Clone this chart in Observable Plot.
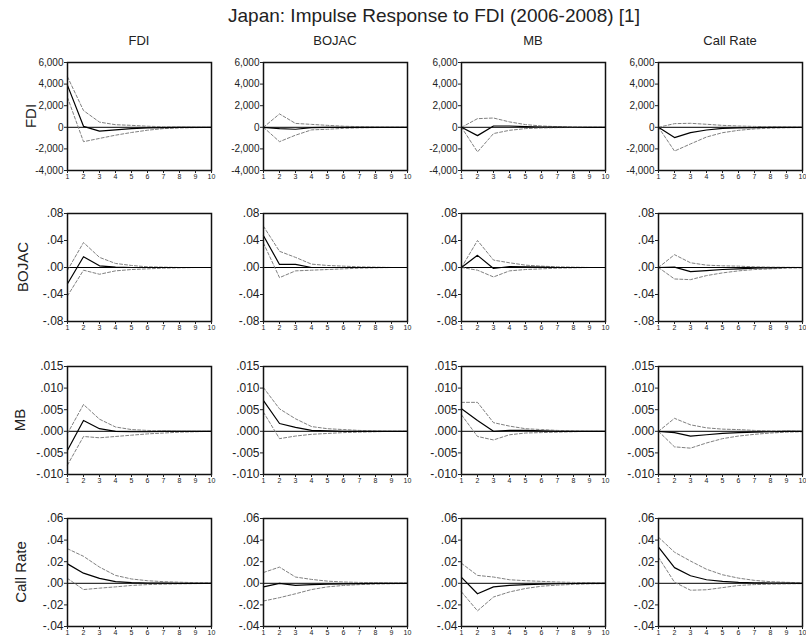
<!DOCTYPE html>
<html>
<head>
<meta charset="utf-8">
<script src="https://cdn.jsdelivr.net/npm/d3@7"></script>
<script src="https://cdn.jsdelivr.net/npm/@observablehq/plot@0.6"></script>
<style>
  html, body { margin: 0; padding: 0; background: #fff; }
  #wrap { position: relative; width: 806px; height: 642px; font-family: "Liberation Sans", Arial, sans-serif; color: #222; overflow: hidden; }
  .title { position: absolute; left: 0; width: 868px; top: 5px; text-align: center; font-size: 19px; line-height: 22px; }
  .head { position: absolute; top: 33px; width: 144px; text-align: center; font-size: 13px; }
  .rowlab { position: absolute; font-size: 15px; transform: translate(-50%, -50%) rotate(-90deg); white-space: nowrap; line-height: 16px; }
  .panel { position: absolute; }
</style>
</head>
<body>
<div id="wrap"></div>
<script>
// ---- Data ----
const title = "Japan: Impulse Response to FDI (2006-2008) [1]";
const shocks = ["FDI", "BOJAC", "MB", "Call Rate"];      // columns (impulse)
const responses = ["FDI", "BOJAC", "MB", "Call Rate"];   // rows (response)
const periods = [1, 2, 3, 4, 5, 6, 7, 8, 9, 10];

// Row 1: response of FDI (columns: FDI, BOJAC, MB, Call Rate)
const fdiResp = [
  [3880, 90, -360, -240, -120, -60, -30, -15, -5, 0],
  [0, -120, -180, -30, -10, -5, 0, 0, 0, 0],
  [0, -770, 120, 120, 60, 30, 15, 5, 0, 0],
  [0, -950, -490, -250, -100, -50, -25, -10, -5, 0]
];
const fdiUpper = [
  [4670, 1550, 480, 240, 180, 100, 50, 25, 10, 5],
  [0, 1240, 360, 270, 180, 100, 60, 30, 15, 5],
  [0, 800, 860, 500, 250, 120, 60, 30, 15, 5],
  [0, 340, 370, 280, 180, 120, 80, 50, 30, 15]
];
const fdiLower = [
  [2760, -1330, -1030, -730, -480, -270, -120, -60, -30, -10],
  [0, -1330, -730, -240, -180, -100, -50, -25, -10, -5],
  [0, -2280, -580, -280, -120, -60, -30, -15, -5, 0],
  [0, -2200, -1540, -900, -500, -280, -150, -80, -40, -20]
];

// Row 2: response of BOJAC
const bojacResp = [
  [-0.024, 0.016, 0.0025, 0.0005, 0, 0, 0, 0, 0, 0],
  [0.047, 0.0045, 0.0045, 0, 0, 0, 0, 0, 0, 0],
  [0, 0.018, -0.0015, 0.0015, 0.001, 0.0005, 0, 0, 0, 0],
  [0, 0.0005, -0.006, -0.0045, -0.003, -0.002, -0.001, -0.0005, 0, 0]
];
const bojacUpper = [
  [-0.004, 0.037, 0.015, 0.006, 0.003, 0.001, 0.0005, 0, 0, 0],
  [0.061, 0.024, 0.015, 0.005, 0.003, 0.002, 0.001, 0.0005, 0, 0],
  [0, 0.04, 0.011, 0.007, 0.0035, 0.002, 0.001, 0.0005, 0, 0],
  [0, 0.019, 0.007, 0.0035, 0.0025, 0.002, 0.001, 0.0005, 0.0003, 0.0001]
];
const bojacLower = [
  [-0.042, -0.004, -0.01, -0.005, -0.003, -0.002, -0.001, -0.0005, 0, 0],
  [0.036, -0.015, -0.005, -0.004, -0.003, -0.002, -0.001, -0.0005, 0, 0],
  [0, -0.004, -0.014, -0.005, -0.003, -0.002, -0.001, -0.0005, 0, 0],
  [0, -0.017, -0.018, -0.012, -0.008, -0.005, -0.003, -0.002, -0.001, -0.0005]
];

// Row 3: response of MB
const mbResp = [
  [-0.0044, 0.0025, 0.0006, 0, -0.0001, -0.0001, 0, 0, 0, 0],
  [0.0071, 0.0018, 0.0009, 0.0002, 0.0001, 0, 0, 0, 0, 0],
  [0.0052, 0.0025, 0, 0.0002, 0.0002, 0.0001, 0, 0, 0, 0],
  [0, -0.0003, -0.0011, -0.0008, -0.0005, -0.0003, -0.0002, -0.0001, 0, 0]
];
const mbUpper = [
  [-0.0005, 0.0062, 0.0028, 0.001, 0.0004, 0.0002, 0.0001, 0, 0, 0],
  [0.0101, 0.0052, 0.0029, 0.0011, 0.0006, 0.0004, 0.0002, 0.0001, 0, 0],
  [0.0067, 0.0067, 0.002, 0.0012, 0.0006, 0.0004, 0.0002, 0.0001, 0, 0],
  [0, 0.003, 0.0015, 0.0008, 0.0005, 0.0004, 0.0002, 0.0001, 0.0001, 0]
];
const mbLower = [
  [-0.0078, -0.0012, -0.0015, -0.0012, -0.0009, -0.0006, -0.0004, -0.0002, -0.0001, 0],
  [0.0044, -0.0017, -0.0011, -0.0007, -0.0005, -0.0003, -0.0002, -0.0001, 0, 0],
  [0.0038, -0.0012, -0.002, -0.0008, -0.0004, -0.0003, -0.0002, -0.0001, 0, 0],
  [0, -0.0036, -0.0039, -0.0027, -0.0017, -0.0011, -0.0007, -0.0004, -0.0002, -0.0001]
];

// Row 4: response of Call Rate
const callResp = [
  [0.018, 0.0094, 0.0045, 0.0015, 0.0006, 0.0003, 0.0001, 0, 0, 0],
  [-0.0033, 0, -0.002, -0.0012, -0.0008, -0.0005, -0.0003, -0.0001, 0, 0],
  [0.0055, -0.0097, -0.0033, -0.002, -0.0012, -0.0007, -0.0004, -0.0002, -0.0001, 0],
  [0.0336, 0.0145, 0.007, 0.0033, 0.0018, 0.0009, 0.0005, 0.0003, 0.0001, 0]
];
const callUpper = [
  [0.032, 0.025, 0.015, 0.0073, 0.004, 0.0024, 0.0015, 0.001, 0.0006, 0.0004],
  [0.01, 0.015, 0.0058, 0.0036, 0.002, 0.0012, 0.0008, 0.0005, 0.0003, 0.0002],
  [0.0185, 0.0073, 0.0058, 0.0033, 0.0024, 0.0018, 0.0012, 0.0008, 0.0005, 0.0003],
  [0.0427, 0.0288, 0.0206, 0.013, 0.0079, 0.0048, 0.0027, 0.0015, 0.0009, 0.0005]
];
const callLower = [
  [0.0045, -0.0058, -0.0045, -0.0033, -0.002, -0.0012, -0.0008, -0.0005, -0.0003, -0.0001],
  [-0.0164, -0.0133, -0.0097, -0.0058, -0.0033, -0.002, -0.0012, -0.0007, -0.0004, -0.0002],
  [-0.008, -0.0255, -0.0127, -0.008, -0.0048, -0.0027, -0.0017, -0.001, -0.0005, -0.0003],
  [0.024, 0.001, -0.0064, -0.006, -0.004, -0.002, -0.0012, -0.0008, -0.0005, -0.0003]
];

// y-axis tick values per row
const fdiTicks = [-4000, -2000, 0, 2000, 4000, 6000];
const bojacTicks = [-0.08, -0.04, 0, 0.04, 0.08];
const mbTicks = [-0.010, -0.005, 0, 0.005, 0.010, 0.015];
const callTicks = [-0.04, -0.02, 0, 0.02, 0.04, 0.06];

// ---- Assembly ----
const signed = (f) => (d) => (d < 0 ? "-" : "") + f(Math.abs(d));
const noLead = (p) => (v) => d3.format("." + p + "f")(v).replace(/^0/, "");
const rows = [
  {resp: fdiResp, up: fdiUpper, lo: fdiLower, ticks: fdiTicks, fmt: signed(d3.format(",")), fs: 10},
  {resp: bojacResp, up: bojacUpper, lo: bojacLower, ticks: bojacTicks, fmt: signed(noLead(2)), fs: 12},
  {resp: mbResp, up: mbUpper, lo: mbLower, ticks: mbTicks, fmt: signed(noLead(3)), fs: 12},
  {resp: callResp, up: callUpper, lo: callLower, ticks: callTicks, fmt: signed(noLead(2)), fs: 12}
];

const colLeft = [67, 263, 461, 658];
const rowTop = [62, 213, 366, 518];
const rowLabX = [31, 23, 20, 21];
const frameW = 144, frameH = 108;
const mL = 46, mR = 4, mT = 6, mB = 14;

const wrap = document.getElementById("wrap");
const t = document.createElement("div");
t.className = "title"; t.textContent = title; wrap.appendChild(t);

shocks.forEach((s, c) => {
  const h = document.createElement("div");
  h.className = "head"; h.textContent = s;
  h.style.left = colLeft[c] + "px";
  wrap.appendChild(h);
});
responses.forEach((r, i) => {
  const l = document.createElement("div");
  l.className = "rowlab"; l.textContent = r;
  l.style.left = rowLabX[i] + "px"; l.style.top = (rowTop[i] + frameH / 2) + "px";
  wrap.appendChild(l);
});

rows.forEach((row, i) => {
  shocks.forEach((s, c) => {
    const mk = (arr) => periods.map((p, k) => ({p, v: arr[k]}));
    const chart = Plot.plot({
      width: frameW + mL + mR,
      height: frameH + mT + mB,
      marginLeft: mL, marginRight: mR, marginTop: mT, marginBottom: mB,
      style: {fontFamily: "'Liberation Sans', Arial, sans-serif", color: "#222", background: "transparent", overflow: "visible"},
      x: {domain: [1, 10]},
      y: {domain: [row.ticks[0], row.ticks[row.ticks.length - 1]]},
      marks: [
        Plot.ruleY([0], {stroke: "black", strokeWidth: 1}),
        Plot.line(mk(row.up[c]), {x: "p", y: "v", stroke: "#808080", strokeWidth: 1, strokeDasharray: "3,2"}),
        Plot.line(mk(row.lo[c]), {x: "p", y: "v", stroke: "#808080", strokeWidth: 1, strokeDasharray: "3,2"}),
        Plot.line(mk(row.resp[c]), {x: "p", y: "v", stroke: "black", strokeWidth: 1.2}),
        Plot.frame({stroke: "#111", strokeWidth: 1.5}),
        Plot.axisX({ticks: periods, tickFormat: (d) => String(d), tickSize: 3, tickPadding: 1, fontSize: 7, label: null}),
        Plot.axisY({ticks: row.ticks, tickFormat: row.fmt, tickSize: 3, tickPadding: 1, fontSize: row.fs, label: null})
      ]
    });
    const d = document.createElement("div");
    d.className = "panel";
    d.style.left = (colLeft[c] - mL) + "px";
    d.style.top = (rowTop[i] - mT) + "px";
    d.appendChild(chart);
    wrap.appendChild(d);
  });
});
</script>
</body>
</html>
